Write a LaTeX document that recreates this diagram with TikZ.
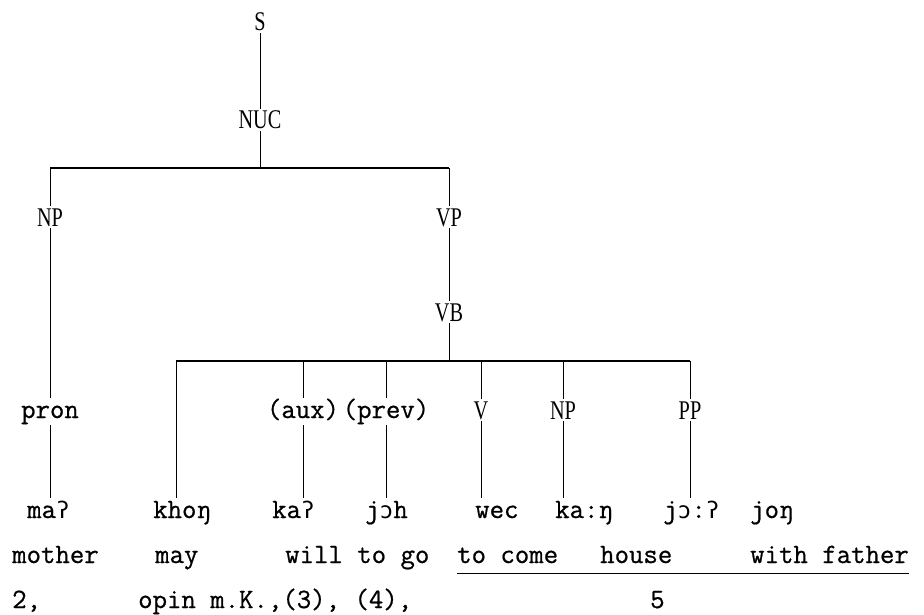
\documentclass[tikz,border=0pt]{standalone}
\usepackage{fontspec}
\newfontfamily\typew[FakeBold=0.7]{Latin Modern Mono}
\newfontfamily\ipafont[Scale=0.82]{DejaVu Sans Mono}
\newfontfamily\labelfont{Liberation Serif}

% condensed serif for the category labels
\newcommand\narrow[1]{\scalebox{0.75}[1]{#1}}
% glyphs missing from the typewriter face
\newcommand\ipa[1]{{\ipafont #1}}

\begin{document}
\begin{tikzpicture}
	[x=1pt,y=-1pt,
	 cat/.style={anchor=base, inner sep=2pt, text height=18pt, text depth=0pt, font=\labelfont\fontsize{27}{27}\selectfont},
	 tw/.style={anchor=base, inner sep=2pt, text height=18pt, text depth=5pt, font=\typew\fontsize{28}{28}\selectfont},
	 word/.style={anchor=base west, inner sep=0pt, text height=20pt, text depth=6pt, font=\typew\fontsize{28}{28}\selectfont},
	 gloss/.style={anchor=base west, inner sep=0pt, text depth=10pt, font=\typew\fontsize{28}{28}\selectfont},
	 branch/.style={line width=0.9pt},
	 bar/.style={line width=1.4pt}]
	\useasboundingbox (0,0) rectangle (924,615);

	%top of the tree
	\node[cat] (s)   at (260,31)  {\narrow{S}};
	\node[cat] (nuc) at (260,129) {\narrow{NUC}};
	\node[cat] (np)  at (50,226)  {\narrow{NP}};
	\node[cat] (vp)  at (449,226) {\narrow{VP}};
	\node[cat] (vb)  at (449,321) {\narrow{VB}};

	%pre-terminals
	\node[tw]  (pron) at (50,418)  {pron};
	\node[tw]  (aux)  at (303,418) {(aux)};
	\node[tw]  (prev) at (386,418) {(prev)};
	\node[cat] (v)    at (481,419) {\narrow{V}};
	\node[cat] (npb)  at (563,419) {\narrow{NP}};
	\node[cat] (pp)   at (690,419) {\narrow{PP}};

	%words
	\node[word] (ma)   at (27,518)  {ma\ipa{ʔ}};
	\node[word] (khon) at (153,518) {khoŋ};
	\node[word] (ka)   at (272,518) {ka\ipa{ʔ}};
	\node[word] (joh)  at (365,518) {j\ipa{ɔ}h};
	\node[word] (wec)  at (475,518) {wec};
	\node[word] (kan)  at (555,518) {ka:ŋ};
	\node[word] (jo)   at (663,518) {j\ipa{ɔ}:\ipa{ʔ}};
	\node[word] (jon)  at (750,518) {joŋ};

	%glosses
	\node[gloss] (mother) at (12,563)  {mother};
	\node[gloss] (may)    at (155,563) {may};
	\node[gloss] (will)   at (285,563) {will to go};
	\node[gloss] (come)   at (457,563) {to come};
	\node[gloss] (house)  at (600,563) {house};
	\node[gloss] (father) at (750,563) {with father};
	\draw[branch] (come.south west) -- (father.south east);

	%numbers
	\node[gloss] (n2)   at (12,608)  {2,};
	\node[gloss] (opin) at (138,608) {opin m.K.,(3), (4),};
	\node[gloss] (n5)   at (650,608) {5};

	%branches
	\coordinate (barA) at (0,168);
	\coordinate (barB) at (176,361);
	\draw[branch] (s) -- (nuc);
	\draw[branch] (nuc) -- (nuc |- barA);
	\draw[bar] (np.north |- barA) -- (vp.north |- barA);
	\draw[branch] (np) -- (np |- barA);
	\draw[branch] (vp) -- (vp |- barA);
	\draw[branch] (vp) -- (vb);
	\draw[branch] (vb) -- (vb |- barB);
	\draw[bar] (barB) -- (pp.north |- barB);
	\draw[branch] (barB) -- (barB |- khon.north);
	\foreach \n in {aux,prev,v,npb,pp}
		\draw[branch] (\n) -- (\n |- barB);
	\draw[branch] (np) -- (pron);
	\draw[branch] (pron) -- (pron |- ma.north);
	\draw[branch] (aux) -- (aux |- ka.north);
	\draw[branch] (prev) -- (prev |- joh.north);
	\draw[branch] (v) -- (v |- wec.north);
	\draw[branch] (npb) -- (npb |- kan.north);
	\draw[branch] (pp) -- (pp |- jo.north);
\end{tikzpicture}
\end{document}
